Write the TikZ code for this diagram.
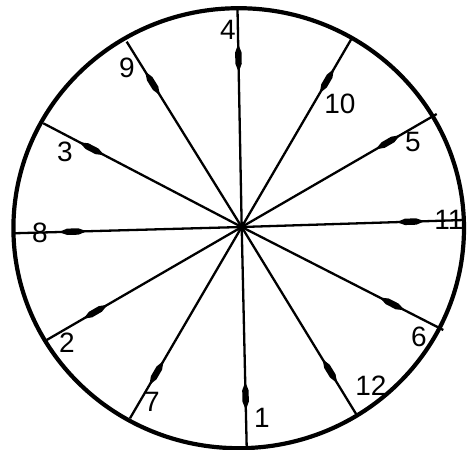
\documentclass[tikz,border=0pt]{standalone}
\usepackage{fontspec}
\setmainfont{Liberation Sans}
\usetikzlibrary{calc}
\begin{document}
\begin{tikzpicture}[x=1pt,y=-1pt,
  ray/.style={line width=2.3pt},
  rim/.style={line width=4.2pt},
  lbl/.style={font=\fontsize{28}{28}\selectfont, inner sep=0pt}]
\useasboundingbox (0,0) rectangle (467,450);
\coordinate (H) at (241.7,227);
\coordinate (E4) at (237.5,9);
\coordinate (E1) at (246.7,447);
\coordinate (E10) at (352.7,36.7);
\coordinate (E7) at (130,418.3);
\coordinate (E5) at (436.7,114);
\coordinate (E2) at (46.7,340);
\coordinate (E11) at (464,220);
\coordinate (E8) at (13,233.3);
\coordinate (E6) at (443.3,330);
\coordinate (E3) at (43.3,123.3);
\coordinate (E12) at (356.7,415);
\coordinate (E9) at (126.7,41.7);
\foreach \e in {E1,E2,E3,E4,E5,E6,E7,E8,E9,E10,E11,E12}{
  \draw[ray] (H) -- (\e);
  \coordinate (a) at ($(H)!155pt!(\e)$);
  \coordinate (b) at ($(H)!183pt!(\e)$);
  \coordinate (p) at ($(a)!0.3!(b)$);
  \coordinate (q) at ($(a)!0.7!(b)$);
  \fill (a) -- ($(p)!3.2pt!90:(b)$) -- ($(q)!3.2pt!90:(b)$) -- (b)
        -- ($(q)!3.2pt!-90:(b)$) -- ($(p)!3.2pt!-90:(b)$) -- cycle;
}
\fill (H) circle (2.6pt);
\draw[rim] (238.7,228.2) ellipse [x radius=225.3, y radius=220];
\node[lbl] (L4) at (228,30) {4};
\node[lbl] (L9) at (127,68) {9};
\node[lbl] (L10) at (340,104) {10};
\node[lbl] (L5) at (413,142) {5};
\node[lbl] (L3) at (65,152) {3};
\node[lbl] (L8) at (40,233) {8};
\node[lbl] (L11) at (449,220) {11};
\node[lbl] (L6) at (419,337) {6};
\node[lbl] (L12) at (371,386) {12};
\node[lbl] (L1) at (262,418) {1};
\node[lbl] (L7) at (152,402) {7};
\node[lbl] (L2) at (67,343) {2};
\end{tikzpicture}
\end{document}
